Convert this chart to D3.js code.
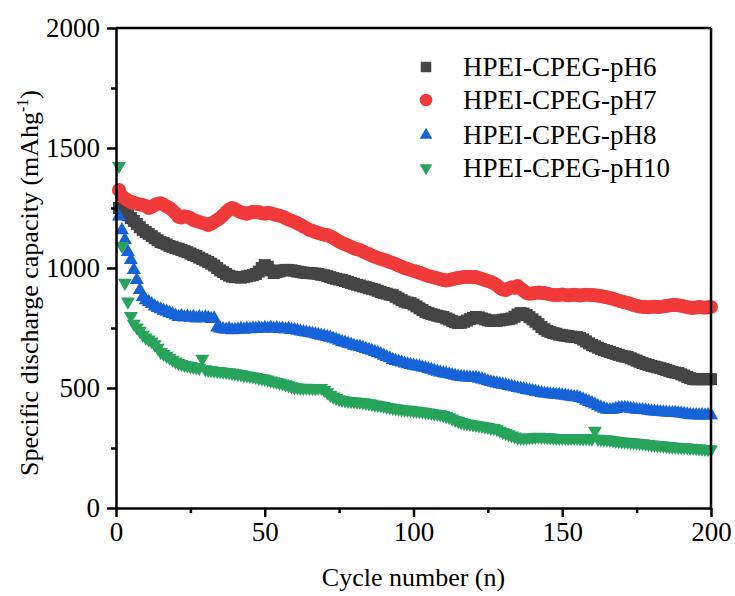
<!DOCTYPE html>
<html>
<head>
<meta charset="utf-8">
<script src="https://cdn.jsdelivr.net/npm/d3@7"></script>
<style>
  html, body { margin: 0; padding: 0; background: #ffffff; }
  svg { display: block; }
  text { font-family: "Liberation Serif", "Times New Roman", serif; fill: #000; }
</style>
</head>
<body>
<svg id="chart" width="735" height="596"></svg>
<script>
// ---------------- DATA ----------------
const cycles = d3.range(1, 201);
const seriesNames = ["HPEI-CPEG-pH6", "HPEI-CPEG-pH7", "HPEI-CPEG-pH8", "HPEI-CPEG-pH10"];
const xTicks = [0, 50, 100, 150, 200];
const xMinorTicks = [25, 75, 125, 175];
const yTicks = [0, 500, 1000, 1500, 2000];
const yMinorTicks = [250, 750, 1250, 1750];

const pH6 = [
  1250,1243,1230,1220,1208,1196,1184,1170,1158,1150,
  1142,1133,1124,1116,1108,1104,1098,1092,1088,1083,
  1080,1075,1070,1066,1060,1054,1050,1043,1037,1031,
  1025,1018,1010,1000,990,983,975,968,964,962,
  962,960,962,965,968,970,975,985,1000,1012,
  1005,990,979,983,986,990,992,992,990,988,
  985,983,981,979,979,978,977,975,972,970,
  966,962,958,955,952,950,946,942,938,934,
  930,927,923,920,916,913,910,905,900,896,
  893,889,887,880,873,866,860,856,854,848,
  840,832,825,817,812,808,805,801,798,796,
  790,785,779,774,771,772,776,781,787,792,
  796,794,790,786,782,780,779,780,782,784,
  786,787,790,797,806,812,810,804,795,786,
  776,766,754,745,738,733,729,726,722,720,
  718,716,714,713,712,708,702,694,686,679,
  674,668,663,658,654,650,646,642,638,634,
  631,629,624,619,614,609,604,600,596,592,
  589,586,583,579,575,571,567,564,562,557,
  552,546,541,537,536,537,538,537,536,537
];
const pH7 = [
  1325,1300,1290,1282,1275,1272,1268,1265,1262,1258,
  1250,1255,1262,1268,1270,1264,1256,1250,1240,1228,
  1213,1210,1216,1212,1208,1200,1196,1192,1188,1184,
  1179,1184,1192,1200,1208,1220,1232,1244,1250,1246,
  1238,1232,1229,1226,1230,1234,1233,1233,1228,1226,
  1230,1228,1224,1221,1218,1214,1208,1202,1197,1192,
  1186,1180,1173,1166,1158,1155,1150,1146,1142,1139,
  1137,1132,1126,1118,1110,1104,1099,1094,1088,1082,
  1078,1075,1069,1063,1058,1052,1047,1042,1038,1034,
  1030,1025,1021,1016,1010,1005,1000,996,992,988,
  984,980,976,971,967,964,960,957,953,950,
  948,950,953,956,958,960,962,963,962,962,
  962,958,954,950,946,942,936,928,918,910,
  908,915,920,917,925,915,905,896,893,894,
  896,898,896,896,893,890,888,887,887,890,
  888,886,887,889,887,885,887,889,888,887,
  886,884,883,880,878,875,872,868,864,860,
  857,854,850,846,842,840,838,837,836,838,
  839,838,838,840,842,844,846,846,845,843,
  840,837,834,833,835,838,836,834,836,838
];
const pH8 = [
  1215,1158,1117,1067,1033,992,950,908,879,866,
  858,850,840,833,828,822,818,813,808,802,
  796,800,794,798,793,796,790,795,791,794,
  792,788,790,752,748,745,743,746,741,742,
  744,747,743,748,745,749,746,750,747,751,
  748,752,747,750,746,748,744,746,742,742,
  739,736,733,731,729,727,724,721,718,716,
  713,710,706,702,697,692,689,685,681,676,
  673,671,667,663,659,655,650,646,641,635,
  629,624,617,613,610,606,602,599,596,593,
  591,589,586,583,579,576,572,568,565,562,
  560,557,554,551,548,546,545,544,543,542,
  542,539,536,532,528,525,522,519,516,514,
  512,509,506,503,500,498,495,492,490,488,
  485,482,479,477,476,474,473,472,471,469,
  468,466,464,462,462,458,453,447,442,437,
  431,425,419,414,410,408,410,413,416,417,
  417,416,414,412,410,408,408,407,405,403,
  402,401,400,399,398,397,396,396,395,394,
  392,390,388,387,387,386,387,386,387,387
];
const pH10 = [
  1425,1092,938,860,800,768,752,738,722,710,
  702,694,682,668,650,642,634,626,618,610,
  604,600,596,594,591,588,586,584,622,578,
  575,574,572,571,570,568,567,565,563,561,
  559,557,554,552,550,548,546,542,540,538,
  535,531,528,525,522,519,515,511,507,504,
  502,500,500,501,500,500,499,500,500,492,
  482,471,464,458,453,450,448,446,445,444,
  443,442,440,438,436,434,431,429,427,425,
  422,420,417,415,413,411,410,409,408,406,
  405,403,402,400,398,396,394,392,390,387,
  383,378,373,367,362,358,355,352,350,348,
  346,344,342,339,337,334,333,328,322,317,
  312,307,302,298,294,292,292,293,294,295,
  296,297,296,296,295,294,293,292,292,292,
  292,291,292,292,292,291,290,291,290,289,
  322,288,287,286,285,284,282,280,278,277,
  276,275,274,273,272,271,270,268,266,264,
  263,262,261,260,258,257,256,255,254,254,
  253,252,251,250,249,248,247,246,245,244
];

// ---------------- CHART ----------------
const svg = d3.select("#chart");
const W = 735, H = 596;
const mLeft = 116, mRight = 711, mTop = 28, mBottom = 508;

svg.append("rect").attr("width", W).attr("height", H).attr("fill", "#ffffff");

const x = d3.scaleLinear().domain([0, 200]).range([mLeft, mRight]);
const y = d3.scaleLinear().domain([0, 2000]).range([mBottom, mTop]);

const series = [
  { name: seriesNames[0], values: pH6, color: "#454545", type: d3.symbolSquare, size: 144, rot: 0, lsize: 110 },
  { name: seriesNames[1], values: pH7, color: "#f03a3a", type: d3.symbolCircle, size: 154, rot: 0, lsize: 125 },
  { name: seriesNames[2], values: pH8, color: "#1662d8", type: d3.symbolTriangle, size: 85, rot: 0, lsize: 70 },
  { name: seriesNames[3], values: pH10, color: "#27a35c", type: d3.symbolTriangle, size: 85, rot: 180, lsize: 70 }
];

const plot = svg.append("g");
series.forEach(s => {
  const sym = d3.symbol().type(s.type).size(s.size);
  plot.append("g").selectAll("path")
    .data(cycles.map((c, i) => [c, s.values[i]]))
    .join("path")
    .attr("d", sym)
    .attr("fill", s.color)
    .attr("transform", d => `translate(${x(d[0])},${y(d[1])}) rotate(${s.rot})`);
});

// frame (top & right)
svg.append("line").attr("x1", mLeft).attr("x2", mRight).attr("y1", mTop).attr("y2", mTop)
  .attr("stroke", "#000").attr("stroke-width", 2.5);
svg.append("line").attr("x1", mRight).attr("x2", mRight).attr("y1", mTop).attr("y2", mBottom)
  .attr("stroke", "#000").attr("stroke-width", 2.5);

// axes
const fontSize = 27;
const xAxis = svg.append("g").attr("transform", `translate(0,${mBottom})`)
  .call(d3.axisBottom(x).tickValues(xTicks).tickSize(9).tickSizeOuter(0).tickPadding(5).tickFormat(d3.format("d")));
const xMinor = svg.append("g").attr("transform", `translate(0,${mBottom})`)
  .call(d3.axisBottom(x).tickValues(xMinorTicks).tickSize(5).tickSizeOuter(0).tickFormat(""));
xMinor.select(".domain").remove();

const yAxis = svg.append("g").attr("transform", `translate(${mLeft},0)`)
  .call(d3.axisLeft(y).tickValues(yTicks).tickSize(9).tickSizeOuter(0).tickPadding(7).tickFormat(d3.format("d")));
const yMinor = svg.append("g").attr("transform", `translate(${mLeft},0)`)
  .call(d3.axisLeft(y).tickValues(yMinorTicks).tickSize(5).tickSizeOuter(0).tickFormat(""));
yMinor.select(".domain").remove();

[xAxis, yAxis, xMinor, yMinor].forEach(g => {
  g.selectAll(".domain").attr("stroke", "#000").attr("stroke-width", 2.5);
  g.selectAll(".tick line").attr("stroke", "#000").attr("stroke-width", 2.5);
  g.selectAll(".tick text").attr("font-family", "Liberation Serif, Times New Roman, serif")
    .attr("font-size", fontSize).attr("fill", "#000");
});

// axis titles
svg.append("text")
  .attr("x", (mLeft + mRight) / 2).attr("y", 586)
  .attr("text-anchor", "middle").attr("font-size", 26)
  .text("Cycle number (n)");

const yt = svg.append("text")
  .attr("transform", "translate(38,283) rotate(-90)")
  .attr("text-anchor", "middle").attr("font-size", 26);
yt.append("tspan").text("Specific discharge capacity (mAhg");
yt.append("tspan").attr("font-size", 16).attr("dy", -10).text("-1");
yt.append("tspan").attr("dy", 10).text(")");

// legend
const legendY = [67, 100, 135, 168];
series.forEach((s, i) => {
  const sym = d3.symbol().type(s.type).size(s.lsize);
  svg.append("path").attr("d", sym).attr("fill", s.color)
    .attr("transform", `translate(426,${legendY[i]}) rotate(${s.rot})`);
  svg.append("text").attr("x", 463).attr("y", legendY[i] + 9)
    .attr("font-size", fontSize).text(s.name);
});
</script>
</body>
</html>
